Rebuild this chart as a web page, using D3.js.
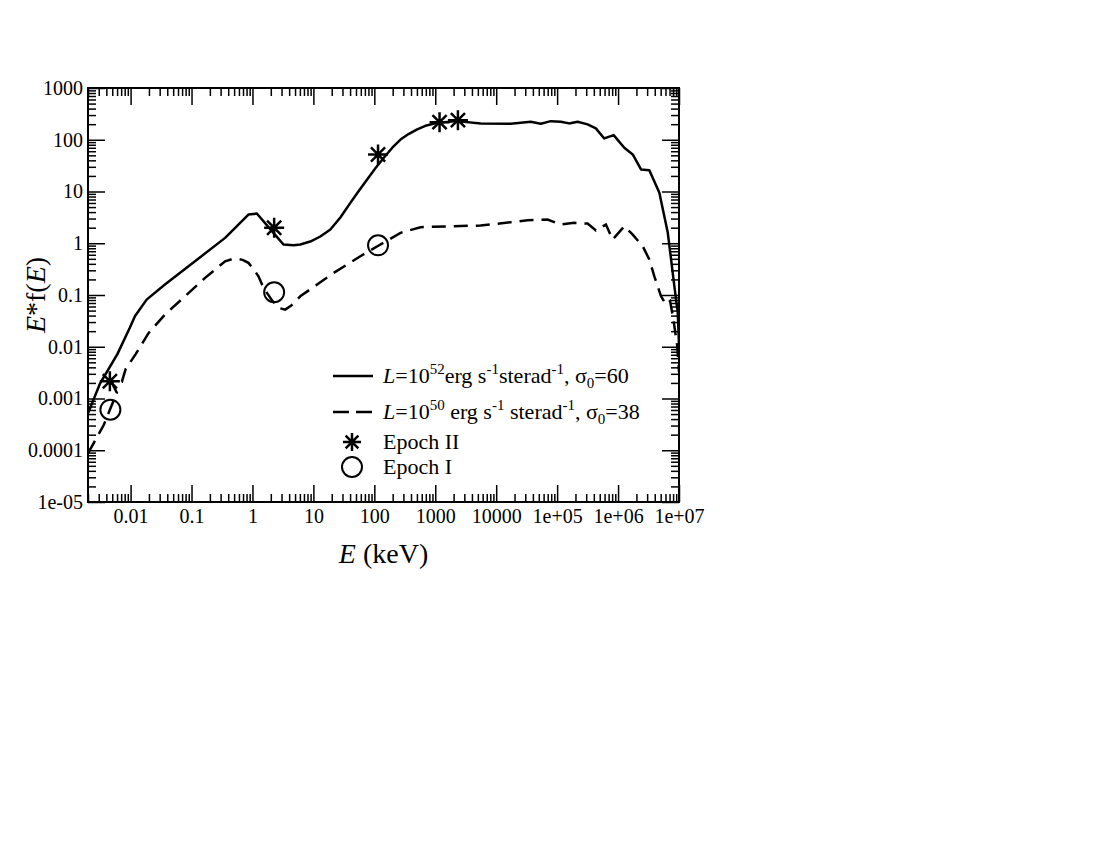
<!DOCTYPE html>
<html>
<head>
<meta charset="utf-8">
<script src="https://cdn.jsdelivr.net/npm/d3@7"></script>
<style>
  body { margin: 0; background: #fff; }
  svg { display: block; }
  text { font-family: "Liberation Serif", "Times New Roman", serif; fill: #000; }
</style>
</head>
<body>
<svg id="chart" width="1100" height="850"></svg>
<script>
// ---- data ----
const solidE = [0.00201, 0.00315, 0.00607, 0.00975, 0.01177, 0.01833, 0.0366, 0.114, 0.356, 0.859, 1.18, 2.21, 3.23, 4.72, 6.09, 8.89, 13.0, 19.0, 27.7, 40.4, 54.7, 76.2, 104, 143, 199, 269, 364, 506, 719, 1079, 2300, 5560, 17300, 36900, 53900, 78800, 115000, 157000, 217000, 316000, 433000, 593000, 847000, 1.265e6, 1.74e6, 2.38e6, 3.26e6, 4.76e6, 6.55e6, 8.40e6, 9.55e6, 1.0e7];
const solidV = [5.25e-4, 1.95e-3, 7.2e-3, 0.0235, 0.0387, 0.0815, 0.159, 0.449, 1.27, 3.59, 3.75, 1.59, 0.944, 0.915, 0.944, 1.08, 1.35, 1.84, 3.14, 6.04, 10.0, 17.1, 28.2, 44.9, 71.0, 101, 129, 158, 189, 213, 229, 207, 204, 223, 204, 229, 223, 207, 223, 198, 166, 106, 123, 70, 52, 26.7, 25.8, 9.44, 1.59, 0.147, 0.045, 0.011];

const dashedE = [0.00201, 0.00364, 0.00457, 0.00595, 0.00493, 0.00719, 0.0083, 0.0122, 0.0198, 0.0366, 0.0782, 0.167, 0.356, 0.464, 0.589, 0.703, 0.859, 1.027, 1.255, 1.44, 1.73, 2.11, 2.68, 3.45, 4.33, 6.09, 21.5, 59.0, 118, 269, 573, 1786, 5560, 17300, 32600, 69500, 115000, 190000, 316000, 433000, 632000, 815000, 1.265e6, 1.74e6, 2.54e6, 3.26e6, 3.94e6, 5.08e6, 6.14e6, 7.14e6, 8.00e6, 9.31e6, 1.0e7];
const dashedV = [8.83e-5, 3.11e-4, 6.07e-4, 1.29e-3, 2.02e-3, 2.11e-3, 3.7e-3, 7.3e-3, 0.0185, 0.0418, 0.0944, 0.214, 0.449, 0.495, 0.499, 0.473, 0.418, 0.324, 0.230, 0.159, 0.110, 0.078, 0.0563, 0.0522, 0.0624, 0.0944, 0.267, 0.561, 0.903, 1.59, 2.04, 2.13, 2.20, 2.55, 2.79, 2.87, 2.30, 2.48, 2.40, 1.76, 2.30, 1.18, 2.13, 1.47, 0.875, 0.484, 0.230, 0.0944, 0.0652, 0.0762, 0.0366, 0.011, 0.0033];

const epoch2E = [0.00457, 2.27, 115, 1176, 2355];
const epoch2V = [0.00215, 1.99, 52, 219, 239];
const epoch1E = [0.00466, 2.27, 115];
const epoch1V = [0.000607, 0.113, 0.914];

const xTickValues = [0.01, 0.1, 1, 10, 100, 1000, 10000, 1e5, 1e6, 1e7];
const xTickLabels = ["0.01", "0.1", "1", "10", "100", "1000", "10000", "1e+05", "1e+06", "1e+07"];
const yTickValues = [1e-5, 1e-4, 1e-3, 0.01, 0.1, 1, 10, 100, 1000];
const yTickLabels = ["1e-05", "0.0001", "0.001", "0.01", "0.1", "1", "10", "100", "1000"];

// ---- layout ----
const svg = d3.select("#chart");
const L = 88, R = 679, T = 88, B = 502;
const x = d3.scaleLog().domain([0.002, 1e7]).range([L, R]);
const y = d3.scaleLog().domain([1e-5, 1000]).range([B, T]);

function minorTicks(lo, hi) {
  const out = [];
  for (let e = Math.floor(Math.log10(lo)); e <= Math.ceil(Math.log10(hi)); e++) {
    for (let m = 2; m <= 9; m++) {
      const v = m * Math.pow(10, e);
      if (v >= lo * 0.9999 && v <= hi * 1.0001) out.push(v);
    }
  }
  return out;
}
const xMinor = minorTicks(0.002, 1e7);
const yMinor = minorTicks(1e-5, 1000);

const MAJ = 17, MIN = 8;
const tickFont = 20;

function styleAxis(g) {
  g.select(".domain").remove();
  g.selectAll(".tick line").attr("stroke", "#000").attr("stroke-width", 1.5);
  g.selectAll(".tick text").style("font-size", tickFont + "px").attr("fill", "#000")
    .style("font-family", '"Liberation Serif", serif');
}

// bottom
svg.append("g").attr("transform", `translate(0,${B})`)
  .call(d3.axisBottom(x).tickValues(xTickValues).tickSize(-MAJ).tickPadding(7)
    .tickFormat((d, i) => xTickLabels[i]))
  .call(styleAxis);
svg.append("g").attr("transform", `translate(0,${B})`)
  .call(d3.axisBottom(x).tickValues(xMinor).tickSize(-MIN).tickFormat(""))
  .call(styleAxis);
// top
svg.append("g").attr("transform", `translate(0,${T})`)
  .call(d3.axisTop(x).tickValues(xTickValues).tickSize(-MAJ).tickFormat(""))
  .call(styleAxis);
svg.append("g").attr("transform", `translate(0,${T})`)
  .call(d3.axisTop(x).tickValues(xMinor).tickSize(-MIN).tickFormat(""))
  .call(styleAxis);
// left
svg.append("g").attr("transform", `translate(${L},0)`)
  .call(d3.axisLeft(y).tickValues(yTickValues).tickSize(-MAJ).tickPadding(5)
    .tickFormat((d, i) => yTickLabels[i]))
  .call(styleAxis);
svg.append("g").attr("transform", `translate(${L},0)`)
  .call(d3.axisLeft(y).tickValues(yMinor).tickSize(-MIN).tickFormat(""))
  .call(styleAxis);
// right
svg.append("g").attr("transform", `translate(${R},0)`)
  .call(d3.axisRight(y).tickValues(yTickValues).tickSize(-MAJ).tickFormat(""))
  .call(styleAxis);
svg.append("g").attr("transform", `translate(${R},0)`)
  .call(d3.axisRight(y).tickValues(yMinor).tickSize(-MIN).tickFormat(""))
  .call(styleAxis);

// frame
svg.append("rect").attr("x", L).attr("y", T).attr("width", R - L).attr("height", B - T)
  .attr("fill", "none").attr("stroke", "#000").attr("stroke-width", 2);

// clip
svg.append("clipPath").attr("id", "plotclip").append("rect")
  .attr("x", L).attr("y", T).attr("width", R - L).attr("height", B - T);

const line = d3.line().x(d => x(d[0])).y(d => y(d[1]));
const plot = svg.append("g").attr("clip-path", "url(#plotclip)");

plot.append("path").datum(d3.zip(solidE, solidV)).attr("d", line)
  .attr("fill", "none").attr("stroke", "#000").attr("stroke-width", 2.5)
  .attr("stroke-linejoin", "round");
plot.append("path").datum(d3.zip(dashedE, dashedV)).attr("d", line)
  .attr("fill", "none").attr("stroke", "#000").attr("stroke-width", 2.5)
  .attr("stroke-dasharray", "14,8");

// star symbol (8 arms)
function starPath(r) {
  const d = r * Math.SQRT1_2;
  return `M${-r},0L${r},0M0,${-r}L0,${r}M${-d},${-d}L${d},${d}M${-d},${d}L${d},${-d}`;
}
svg.append("g").selectAll("path").data(d3.zip(epoch2E, epoch2V)).join("path")
  .attr("transform", d => `translate(${x(d[0])},${y(d[1])})`)
  .attr("d", starPath(10)).attr("stroke", "#000").attr("stroke-width", 2.5).attr("fill", "none");
svg.append("g").selectAll("circle").data(d3.zip(epoch1E, epoch1V)).join("circle")
  .attr("cx", d => x(d[0])).attr("cy", d => y(d[1])).attr("r", 10)
  .attr("stroke", "#000").attr("stroke-width", 2).attr("fill", "none");

// axis titles
const xt = svg.append("text").attr("x", (L + R) / 2).attr("y", 563).attr("text-anchor", "middle")
  .style("font-size", "28px");
xt.append("tspan").style("font-style", "italic").text("E");
xt.append("tspan").text(" (keV)");

const yt = svg.append("text").attr("transform", `translate(45,${(T + B) / 2}) rotate(-90)`)
  .attr("text-anchor", "middle").style("font-size", "28px");
yt.append("tspan").style("font-style", "italic").text("E");
yt.append("tspan").text("*f(");
yt.append("tspan").style("font-style", "italic").text("E");
yt.append("tspan").text(")");

// legend
const lg = svg.append("g").style("font-size", "22px");
const lx0 = 333, lx1 = 373, tx = 383;
lg.append("line").attr("x1", lx0).attr("x2", lx1).attr("y1", 376).attr("y2", 376)
  .attr("stroke", "#000").attr("stroke-width", 2.5);
lg.append("line").attr("x1", lx0).attr("x2", lx1).attr("y1", 412).attr("y2", 412)
  .attr("stroke", "#000").attr("stroke-width", 2.5).attr("stroke-dasharray", "16,7");

function legendLabel(yb, parts) {
  const t = lg.append("text").attr("x", tx).attr("y", yb);
  parts.forEach(p => {
    const s = t.append("tspan").text(p.t);
    if (p.i) s.style("font-style", "italic");
    if (p.sup) s.style("font-size", "15px").attr("dy", -9);
    if (p.sub) s.style("font-size", "15px").attr("dy", 5);
    if (p.back) s.attr("dy", p.back);
  });
}
legendLabel(383, [
  {t: "L", i: true}, {t: "=10"}, {t: "52", sup: true}, {t: "erg s", back: 9},
  {t: "-1", sup: true}, {t: "sterad", back: 9}, {t: "-1", sup: true}, {t: ", σ", back: 9},
  {t: "0", sub: true}, {t: "=60", back: -5}
]);
legendLabel(419, [
  {t: "L", i: true}, {t: "=10"}, {t: "50", sup: true}, {t: " erg s", back: 9},
  {t: "-1", sup: true}, {t: " sterad", back: 9}, {t: "-1", sup: true}, {t: ", σ", back: 9},
  {t: "0", sub: true}, {t: "=38", back: -5}
]);
lg.append("path").attr("transform", "translate(352,442)").attr("d", starPath(9))
  .attr("stroke", "#000").attr("stroke-width", 2.5).attr("fill", "none");
lg.append("circle").attr("cx", 352).attr("cy", 467).attr("r", 10)
  .attr("stroke", "#000").attr("stroke-width", 2).attr("fill", "none");
lg.append("text").attr("x", tx).attr("y", 449).text("Epoch II");
lg.append("text").attr("x", tx).attr("y", 474).text("Epoch I");
</script>
</body>
</html>
